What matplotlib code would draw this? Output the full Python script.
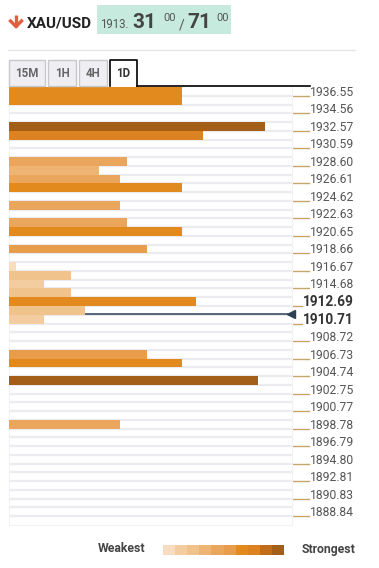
import numpy as np
import matplotlib
matplotlib.use('Agg')
from matplotlib import pyplot as plt
from matplotlib.patches import Rectangle
from matplotlib.transforms import blended_transform_factory

plt.rcParams['font.family'] = ['Roboto', 'DejaVu Sans']

# confluence strength for each price row, top (highest price) to bottom
strength = [25, 25, 0, 0, 37, 28, 0, 0, 17, 13,
            16, 25, 0, 16, 0, 17, 25, 0, 20, 0,
            1, 9, 5, 9, 27, 11, 5, 0, 0, 0,
            20, 25, 0, 36, 0, 0, 0, 0, 16, 0,
            0, 0, 0, 0, 0, 0, 0, 0, 0, 0]

price_labels = ['1936.55', '1934.56', '1932.57', '1930.59', '1928.60', '1926.61',
                '1924.62', '1922.63', '1920.65', '1918.66', '1916.67', '1914.68',
                '1912.69', '1910.71', '1908.72', '1906.73', '1904.74', '1902.75',
                '1900.77', '1898.78', '1896.79', '1894.80', '1892.81', '1890.83',
                '1888.84']
bold_labels = ['1912.69', '1910.71']
current_row = 26  # row boundary where the current price sits

timeframes = ['15M', '1H', '4H', '1D']
active_tf = '1D'

palette = ['#f7dcc0', '#f3cda0', '#f0c28c', '#edb474', '#eaa65c',
           '#e89d4c', '#e38a1f', '#dc8220', '#c06c18', '#a35f17']

W, H = 379, 568
fig = plt.figure(figsize=(W / 100, H / 100), dpi=100)

# main chart area in pixels: x 9..292, y 87..525
ax = fig.add_axes([9 / W, (H - 525) / H, 283 / W, 438 / H])
n = len(strength)
rows = np.arange(n) + 0.5
colors = [palette[min(s // 4, 9)] for s in strength]
ax.barh(rows, strength, height=1.0, color=colors, zorder=3)
ax.set_xlim(0, 40.9)
ax.set_ylim(n, 0)
ax.set_yticks(np.arange(1, n), minor=True)
ax.set_yticks([])
ax.set_xticks([])
ax.grid(True, which='minor', axis='y', color='#ececf0', lw=1.6, zorder=0)
ax.tick_params(which='both', length=0)
for sp in ax.spines.values():
    sp.set_color('#f2f2f4')
ax.spines['top'].set_visible(False)

# current price line
ax.axhline(current_row - 0.05, xmin=0, xmax=0.993, color='#2b3f55', lw=1.1, zorder=2)
tr = blended_transform_factory(ax.transAxes, ax.transData)
ax.plot([0.995], [current_row - 0.05], marker='<', ms=6, color='#2b3f55',
        transform=tr, clip_on=False, zorder=4)

# price labels on the right
for k, lab in enumerate(price_labels):
    yb = 2 * k + 1
    if lab in bold_labels:
        ax.plot([1.0035, 1.035], [yb, yb], color='#c9a46a', lw=1, transform=tr, clip_on=False)
        ax.text(1.039, yb, lab, transform=tr, ha='left', va='baseline',
                fontsize=9.8, fontweight='bold', color='#333333')
    else:
        ax.plot([1.0035, 1.060], [yb, yb], color='#c9a46a', lw=1, transform=tr, clip_on=False)
        ax.text(1.0636, yb, lab, transform=tr, ha='left', va='baseline',
                fontsize=8.7, color='#555555')

# overlay in pixel coordinates for header, tabs and legend
ov = fig.add_axes([0, 0, 1, 1])
ov.set_xlim(0, W)
ov.set_ylim(H, 0)
ov.axis('off')

# red down arrow
ov.plot([16, 16], [15, 26.5], color='#e0603c', lw=2.4, solid_capstyle='butt')
ov.plot([10.5, 16, 21.5], [21, 26.5, 21], color='#e0603c', lw=2.4,
        solid_joinstyle='miter')
ov.text(27, 27, 'XAU/USD', fontsize=11, fontweight='bold', color='#222222',
        ha='left', va='baseline')
ov.add_patch(Rectangle((97, 5), 134, 29, color='#c7eadf', lw=0))
ov.text(100, 27.5, '1913.', fontsize=8.3, color='#555555', ha='left', va='baseline')
ov.text(132, 27.5, '31', fontsize=15, fontweight='bold', color='#444444', ha='left', va='baseline')
ov.text(163, 21, '00', fontsize=8, color='#555555', ha='left', va='baseline')
ov.text(179, 29, '/', fontsize=10, color='#555555', ha='left', va='baseline')
ov.text(187, 27.5, '71', fontsize=15, fontweight='bold', color='#444444', ha='left', va='baseline')
ov.text(216, 21, '00', fontsize=8, color='#555555', ha='left', va='baseline')

ov.plot([8, 355], [50, 50], color='#e6e6e6', lw=1)

tab_x = [(9, 45), (48, 76), (79, 107), (110, 137)]
for (x0, x1), tf in zip(tab_x, timeframes):
    if tf == active_tf:
        ov.plot([x0, x0, x1, x1], [86, 60, 60, 86], color='black', lw=1.2)
        ov.text((x0 + x1) / 2, 73.5, tf, fontsize=8.3, fontweight='bold', color='#333333',
                ha='center', va='center')
    else:
        ov.add_patch(Rectangle((x0, 60), x1 - x0, 26, facecolor='#eeeef3',
                               edgecolor='#c8c8cc', lw=1))
        ov.text((x0 + x1) / 2, 73.5, tf, fontsize=8.3, fontweight='bold', color='#666666',
                ha='center', va='center')
ov.plot([137, 310], [86, 86], color='black', lw=1.2)

# legend
ov.text(145, 549, 'Weakest', fontsize=8.8, fontweight='bold', color='#444444',
        ha='right', va='center')
gx0, gw = 163, 121
for i, c in enumerate(palette):
    ov.add_patch(Rectangle((gx0 + i * gw / len(palette), 545), gw / len(palette) + 0.3, 10,
                           color=c, lw=0))
ov.text(302, 549, 'Strongest', fontsize=8.8, fontweight='bold', color='#444444',
        ha='left', va='center')

fig.savefig('out.png', dpi=100)
